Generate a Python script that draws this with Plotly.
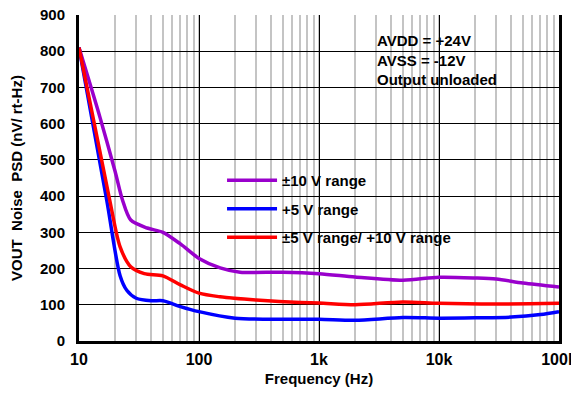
import plotly.graph_objects as go

# (Hz, nV/rt-Hz)
freq_10v = [10, 15, 20, 23, 27, 37, 50, 70, 100, 150, 220, 500, 1000, 2000, 5000, 10000, 20000, 30000, 50000, 100000]
psd_10v = [810, 616, 468, 390, 334, 312, 300, 268, 228, 202, 190, 190, 186, 177, 168, 176, 174, 171, 160, 149]

freq_5v = [10, 17, 22, 25, 30, 40, 50, 70, 100, 200, 500, 1000, 2000, 5000, 10000, 20000, 40000, 70000, 100000]
psd_5v = [810, 390, 180, 140, 118, 111, 111, 95, 81, 63, 60, 60, 57, 65, 63, 64, 66, 73, 81]

freq_pm5 = [10, 18, 22, 27, 35, 50, 70, 100, 150, 300, 700, 1000, 2000, 5000, 10000, 30000, 100000]
psd_pm5 = [810, 390, 260, 205, 186, 180, 155, 132, 122, 113, 106, 105, 100, 108, 104, 102, 104]

x_tickvals = [10, 100, 1000, 10000, 100000]
x_ticktext = ['10', '100', '1k', '10k', '100k']

FONT = 'Liberation Sans'

fig = go.Figure()

series = [
    (freq_10v, psd_10v, '±10 V range', '#9900cc'),
    (freq_5v, psd_5v, '+5 V range', '#0000ff'),
    (freq_pm5, psd_pm5, '±5 V range/ +10 V range', '#ff0000'),
]
for i, (x, y, name, color) in enumerate(series):
    fig.add_trace(go.Scatter(
        x=x, y=y, name=name, mode='lines',
        line=dict(color=color, width=3.5, shape='spline', smoothing=0.8),
        legendgroup=str(i),
    ))

# white boxes behind the legend and the note (they hide the grid)
fig.add_shape(type='rect', xref='paper', yref='paper', x0=0.252, x1=0.835, y0=0.270, y1=0.537,
              fillcolor='white', line=dict(width=0), layer='between')
fig.add_shape(type='rect', xref='paper', yref='paper', x0=0.581, x1=0.919, y0=0.755, y1=0.969,
              fillcolor='white', line=dict(width=0), layer='between')

fig.add_annotation(xref='paper', yref='paper', x=0.617, y=0.954, xanchor='left', yanchor='top',
                   text='<b>AVDD = +24V<br>AVSS = -12V<br>Output unloaded</b>', showarrow=False, align='left',
                   font=dict(family=FONT, size=15, color='black'))

# page body has an 8px margin, so the figure is 8px smaller than the window
fig.update_layout(
    width=571, height=388,
    margin=dict(l=71, r=20, t=7, b=55, autoexpand=False),
    plot_bgcolor='white', paper_bgcolor='white',
    font=dict(family=FONT, size=15, color='black', weight='bold'),
    legend=dict(x=0.298, y=0.543, xanchor='left', yanchor='top', bgcolor='rgba(0,0,0,0)',
                tracegroupgap=6, itemwidth=50, font=dict(size=15, weight='bold')),
    xaxis=dict(
        type='log', range=[1, 5], tickvals=x_tickvals, ticktext=x_ticktext,
        showgrid=True, gridcolor='black', gridwidth=1,
        minor=dict(dtick='D1', showgrid=True, gridcolor='#c4c4c4', gridwidth=2),
        showline=True, linecolor='black', linewidth=3, ticks='',
        tickfont=dict(size=16, weight='bold'), automargin=False, ticklabelstandoff=2,
        ticklabeloverflow='allow',
        title=dict(text='<b>Frequency (Hz)</b>', standoff=7, font=dict(size=15)),
    ),
    yaxis=dict(
        range=[0, 900], dtick=100, showgrid=True, gridcolor='black', gridwidth=1,
        showline=True, linecolor='black', linewidth=3, mirror=True, ticks='',
        zeroline=False, ticklabelstandoff=8, ticklabeloverflow='allow',
        tickfont=dict(size=15, weight='bold'), automargin=False,
        title=dict(text='<b>VOUT  Noise  PSD (nV/ rt-Hz)</b>', standoff=20, font=dict(size=15)),
    ),
)

fig.write_html('out.html')
